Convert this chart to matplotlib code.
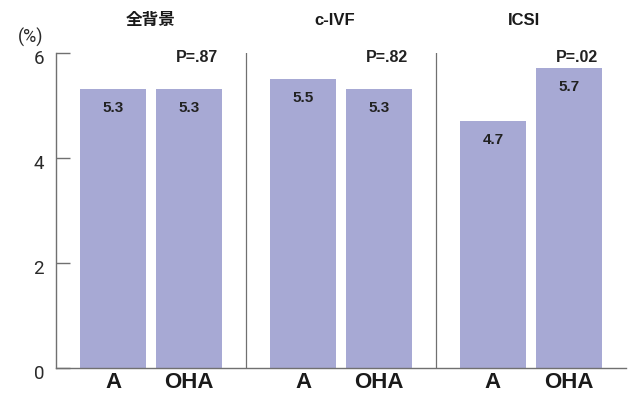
import matplotlib
matplotlib.use("Agg")
import matplotlib.pyplot as plt
import matplotlib.transforms as mtransforms

plt.rcParams['font.family'] = ['Liberation Sans', 'Noto Sans CJK JP', 'DejaVu Sans']

panels = ['全背景', 'c-IVF', 'ICSI']
groups = ['A', 'OHA']
values = [[5.3, 5.3], [5.5, 5.3], [4.7, 5.7]]
value_labels = [['5.3', '5.3'], ['5.5', '5.3'], ['4.7', '5.7']]
p_values = ['P=.87', 'P=.82', 'P=.02']
yticks = [0, 2, 4, 6]

bar_color = '#a7a9d4'
line_color = '#707070'

fig = plt.figure(figsize=(6.28, 3.94), dpi=100)
W, H = 628, 394
ax = fig.add_axes([56 / W, (H - 368) / H, (626 - 56) / W, (368 - 52.7) / H])
ax.set_xlim(0, 6)
ax.set_ylim(0, 6)

off = 0.4
bw = 0.705
for i, (panel, vals) in enumerate(zip(panels, values)):
    c = 2 * i + 1
    xs = [c - off, c + off]
    ax.bar(xs, vals, width=bw, color=bar_color, edgecolor='none', zorder=2)
    for x, v, lab in zip(xs, vals, value_labels[i]):
        ax.annotate(lab, (x, v), xytext=(0, -8.5), textcoords='offset points',
                    ha='center', va='top', fontsize=11, fontweight='bold', color='#222222')
    for x, g in zip(xs, groups):
        ax.annotate(g, (x, 0), xytext=(0, -3), textcoords='offset points',
                    ha='center', va='top', fontsize=16, fontweight='bold', color='#1a1a1a',
                    annotation_clip=False)
    ax.text(xs[1] + bw / 2 - 0.05, 5.9, p_values[i], ha='right', va='center',
            fontsize=11.5, fontweight='bold', color='#222222')
    tx = c - 0.07 if i > 0 else c
    ax.text(tx, 6.62, panel, ha='center', va='center', fontsize=12,
            fontweight='bold', color='#1a1a1a', clip_on=False)
    if i > 0:
        ax.plot([2 * i, 2 * i], [0, 6], color=line_color, lw=0.9, zorder=1)

for s in ['top', 'right']:
    ax.spines[s].set_visible(False)
for s in ['left', 'bottom']:
    ax.spines[s].set_color(line_color)
    ax.spines[s].set_linewidth(1.0)

ax.set_xticks([])
ax.set_yticks(yticks)
ax.set_yticklabels([str(t) for t in yticks])
ax.tick_params(axis='y', direction='in', length=10, width=1.0, color=line_color,
               pad=8.5, labelsize=13.5, labelcolor='#2a2a2a')
for lbl in ax.get_yticklabels():
    lbl.set_family(['Roboto', 'Liberation Sans'])
    lbl.set_fontweight('normal')
    lbl.set_transform(lbl.get_transform() + mtransforms.ScaledTranslation(0, -4 / 100, fig.dpi_scale_trans))

ax.text(-0.27, 6.3, '(%)', ha='center', va='center', fontsize=13, color='#2a2a2a',
        family=['Roboto', 'Liberation Sans'], fontweight='normal', clip_on=False)

fig.savefig('out.png', dpi=100)
